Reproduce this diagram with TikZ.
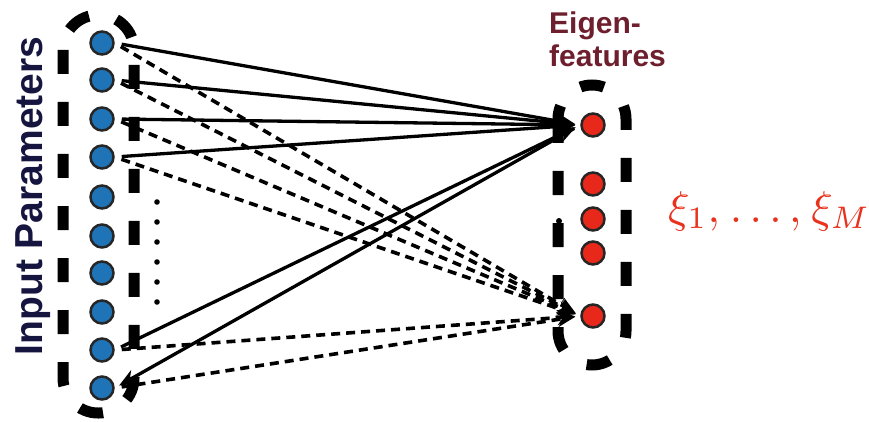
\documentclass[tikz,border=0pt]{standalone}
\usepackage{fontspec}
\usepackage{graphicx}
\newfontfamily\labelfont{Liberation Sans}
\usetikzlibrary{arrows.meta}

\definecolor{inblue}{HTML}{1F74B8}
\definecolor{outred}{HTML}{E8281A}
\definecolor{eigcol}{HTML}{6E1F2E}
\definecolor{navy}{HTML}{15153F}
\definecolor{xired}{HTML}{E8321E}

\begin{document}
\begin{tikzpicture}[x=1pt,y=-1pt,
  inunit/.style={circle,draw=black!85,line width=2.5pt,fill=inblue,minimum size=23pt,inner sep=0pt},
  outunit/.style={inunit,fill=outred},
  group/.style={draw=black,line width=11pt,dash pattern=on 24pt off 28pt},
  link/.style={line width=3.3pt,-{Stealth[length=18pt,width=15pt]},shorten <=7pt,shorten >=5pt},
  dlink/.style={link,line width=3.6pt,dash pattern=on 9pt off 6pt},
  dotmark/.style={fill=black},
]
\useasboundingbox (0,0) rectangle (869,422);

% dashed groups around the two layers
\draw[group,rounded corners=35pt] (63,15) rectangle (134,413);
\draw[group,rounded corners=34pt] (558,85) rectangle (626,365);

% input layer
\foreach \i/\y in {1/43,2/80,3/119,4/157,5/197,6/236,7/273,8/312,9/350,10/388}
  \node[inunit] (b\i) at (102,\y) {};

% output layer
\foreach \i/\y in {1/125,2/184,3/219,4/253,5/316}
  \node[outunit] (r\i) at (593,\y) {};

% vertical ellipses
\foreach \y in {202,222,...,302}
  \fill[dotmark] (157,\y) circle (2.8pt);
\fill[dotmark] (559,221) circle (3pt);
\fill[dotmark] (559,238) circle (3pt);

% connections to the first eigen-feature
\foreach \i in {1,2,3,4,9}
  \draw[link] (b\i.east) -- (r1.west);
\draw[link] (r1.west) -- (b10.east);

% connections to the last eigen-feature
\foreach \i in {1,2,3,4,9,10}
  \draw[dlink] (b\i.east) -- (r5.west);

% labels
\node[rotate=90,anchor=base,text=navy,inner sep=0pt,
  font=\labelfont\bfseries\fontsize{39}{39}\selectfont] (inlabel) at (42,196) {Input Parameters};
\node[anchor=north west,align=left,text=eigcol,inner sep=0pt,
  font=\labelfont\bfseries\fontsize{30}{33}\selectfont] (eiglabel) at (549,12) {Eigen-\\features};
\node[anchor=base west,text=xired,inner sep=0pt] (xilabel) at (668,222)
  {\scalebox{4.45}{$\xi_1,\mkern1mu\ldots,\mkern1mu\xi_M$}};
\end{tikzpicture}
\end{document}
